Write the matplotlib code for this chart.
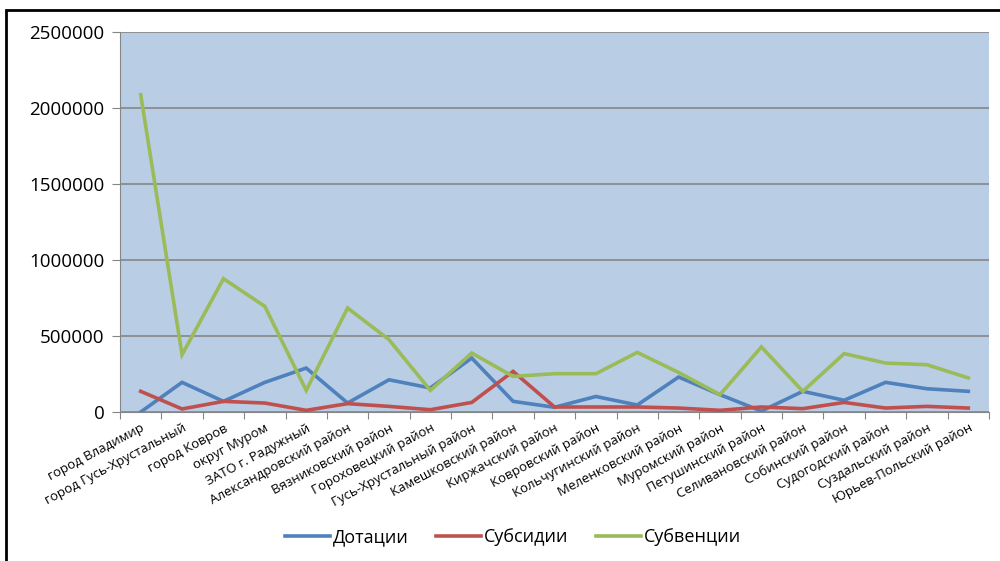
import numpy as np
import matplotlib.pyplot as plt
from matplotlib.patches import Rectangle

plt.rcParams['font.family'] = ['Open Sans', 'DejaVu Sans']

districts = ['город Владимир', 'город Гусь-Хрустальный', 'город Ковров', 'округ Муром',
             'ЗАТО г. Радужный', 'Александровский район', 'Вязниковский район',
             'Гороховецкий район', 'Гусь-Хрустальный район', 'Камешковский район',
             'Киржачский район', 'Ковровский район', 'Кольчугинский район',
             'Меленковский район', 'Муромский район', 'Петушинский район',
             'Селивановский район', 'Собинский район', 'Судогодский район',
             'Суздальский район', 'Юрьев-Польский район']

dotacii = [0, 195000, 70000, 195000, 289000, 59000, 212000, 158000, 355000, 70000,
           31000, 102000, 46000, 230000, 114000, 6000, 136000, 77000, 195000, 153000, 136000]
subsidii = [136000, 20000, 70000, 59000, 11000, 55000, 37000, 15000, 63000, 267000,
            33000, 33000, 33000, 26000, 11000, 33000, 22000, 63000, 26000, 37000, 26000]
subvencii = [2087000, 377000, 877000, 695000, 142000, 684000, 476000, 142000, 388000, 234000,
             252000, 252000, 392000, 260000, 114000, 428000, 136000, 384000, 322000, 311000, 224000]

series = [('Дотации', dotacii, '#4F81BD'),
          ('Субсидии', subsidii, '#C0504D'),
          ('Субвенции', subvencii, '#9BBB59')]

fig = plt.figure(figsize=(10, 5.61), dpi=100)
ax = fig.add_axes([0.12, 0.2656, 0.869, 0.6774])
ax.set_facecolor('#B9CDE5')

x = np.arange(len(districts))
for name, vals, col in series:
    ax.plot(x, vals, color=col, lw=2.6, label=name, solid_joinstyle='miter')

ax.set_xlim(-0.5, len(districts) - 0.5)
ax.set_ylim(0, 2500000)
ax.set_yticks(np.arange(0, 2500001, 500000))
ax.set_yticklabels([str(v) for v in range(0, 2500001, 500000)], fontsize=13.5)
ax.yaxis.grid(True, color='#868686', lw=1.2)
ax.set_axisbelow(True)
ax.tick_params(axis='y', length=6, color='#868686', pad=5)

# ticks between categories, labels at category centres
ax.set_xticks(np.arange(-0.5, len(districts), 1))
ax.set_xticklabels([])
ax.tick_params(axis='x', which='major', length=5, color='#868686')
ax.set_xticks(x, minor=True)
ax.set_xticklabels(districts, minor=True, rotation=28, ha='right', va='top',
                   rotation_mode='anchor', fontsize=9.5)
ax.tick_params(axis='x', which='minor', length=0, pad=7)

for s in ['top', 'right']:
    ax.spines[s].set_visible(False)
ax.spines['left'].set_color('#868686')
ax.spines['bottom'].set_color('#868686')

fig.legend(loc='center', bbox_to_anchor=(0.513, 0.042), ncol=3, frameon=False,
           fontsize=13, handlelength=2.5, handletextpad=0.15, columnspacing=1.5)

fig.patches.append(Rectangle((0.006, -0.1), 1.1, 1.082, transform=fig.transFigure,
                             fill=False, ec='black', lw=2))

fig.savefig('out.png', dpi=100)
